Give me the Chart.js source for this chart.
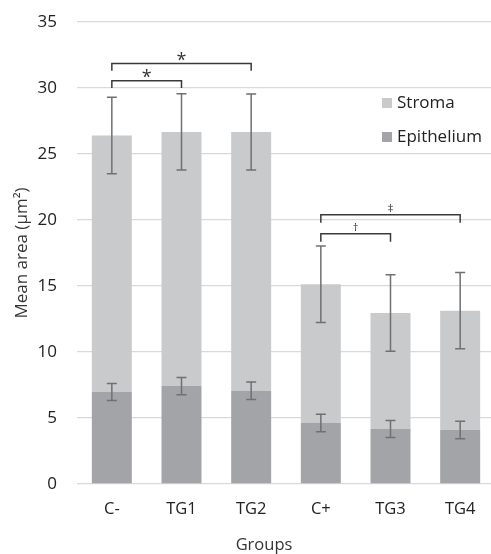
<!DOCTYPE html>
<html>
<head>
<meta charset="utf-8">
<script src="https://cdn.jsdelivr.net/npm/chart.js@4.4.0/dist/chart.umd.min.js"></script>
<style>
html,body{margin:0;padding:0;background:#fff;overflow:hidden;}
#wrap{width:500px;height:554px;position:relative;}
</style>
</head>
<body>
<div id="wrap"><canvas id="c" width="500" height="554"></canvas></div>
<script>
const categories = ['C-', 'TG1', 'TG2', 'C+', 'TG3', 'TG4'];
const epithelium = [6.97, 7.42, 7.07, 4.62, 4.17, 4.09];
const stroma = [19.43, 19.25, 19.60, 10.51, 8.78, 9.04];
const epitheliumErr = [0.65, 0.65, 0.66, 0.66, 0.65, 0.66];
const totalErr = [2.89, 2.89, 2.88, 2.90, 2.90, 2.89];
const yTicks = [0, 5, 10, 15, 20, 25, 30, 35];
const brackets = [
  { from: 0, to: 2, label: '*', top: 31.85, bottom: 31.3 },
  { from: 0, to: 1, label: '*', top: 30.55, bottom: 30.0 },
  { from: 3, to: 5, label: '\u2021', top: 20.4, bottom: 19.8 },
  { from: 3, to: 4, label: '\u2020', top: 18.96, bottom: 18.35 }
];
const seriesNames = ['Epithelium', 'Stroma'];
const FONT = '"Open Sans", sans-serif';

const overlay = {
  id: 'overlay',
  afterDatasetsDraw(chart) {
    const ctx = chart.ctx;
    const x = chart.scales.x, y = chart.scales.y;
    ctx.save();
    // error bars
    ctx.strokeStyle = '#707070';
    ctx.lineWidth = 1.5;
    const cap = 5;
    const drawErr = (cx, v, e) => {
      const t = y.getPixelForValue(v + e), b = y.getPixelForValue(v - e);
      ctx.beginPath();
      ctx.moveTo(cx, t); ctx.lineTo(cx, b);
      ctx.moveTo(cx - cap, t); ctx.lineTo(cx + cap, t);
      ctx.moveTo(cx - cap, b); ctx.lineTo(cx + cap, b);
      ctx.stroke();
    };
    categories.forEach((c, i) => {
      const cx = x.getPixelForValue(i);
      drawErr(cx, epithelium[i], epitheliumErr[i]);
      drawErr(cx, epithelium[i] + stroma[i], totalErr[i]);
    });
    // brackets
    ctx.strokeStyle = '#3a3a3a';
    ctx.lineWidth = 1.5;
    ctx.fillStyle = '#333';
    ctx.textAlign = 'center';
    ctx.textBaseline = 'alphabetic';
    brackets.forEach(br => {
      const x1 = x.getPixelForValue(br.from), x2 = x.getPixelForValue(br.to);
      const yt = y.getPixelForValue(br.top), yb = y.getPixelForValue(br.bottom);
      ctx.beginPath();
      ctx.moveTo(x1, yb); ctx.lineTo(x1, yt); ctx.lineTo(x2, yt); ctx.lineTo(x2, yb);
      ctx.stroke();
      if (br.label === '*') {
        ctx.font = '18px ' + FONT;
        ctx.fillText(br.label, (x1 + x2) / 2, yt + 2);
      } else {
        ctx.font = '11px ' + FONT;
        ctx.fillText(br.label, (x1 + x2) / 2, yt - 3);
      }
    });
    // legend
    const ca = chart.chartArea;
    const lx = 382;
    const items = [
      { name: seriesNames[1], color: chart.data.datasets[1].backgroundColor, cy: 103 },
      { name: seriesNames[0], color: chart.data.datasets[0].backgroundColor, cy: 137 }
    ];
    ctx.font = '17px ' + FONT;
    ctx.textAlign = 'left';
    ctx.textBaseline = 'middle';
    items.forEach(it => {
      ctx.fillStyle = it.color;
      ctx.fillRect(lx, it.cy - 5, 10, 10);
      ctx.fillStyle = '#222';
      ctx.fillText(it.name, lx + 15, it.cy);
    });
    // axis titles
    ctx.fillStyle = '#333';
    ctx.font = '16.5px ' + FONT;
    ctx.textAlign = 'center';
    ctx.fillText('Groups', 264, 545);
    ctx.translate(22, (ca.top + ca.bottom) / 2);
    ctx.rotate(-Math.PI / 2);
    ctx.font = '17px ' + FONT;
    ctx.fillText('Mean area (\u00b5m\u00b2)', 0, 0);
    ctx.restore();
  }
};

new Chart(document.getElementById('c'), {
  type: 'bar',
  data: {
    labels: categories,
    datasets: [
      { label: seriesNames[0], data: epithelium, backgroundColor: '#a3a4a7', barPercentage: 0.574, categoryPercentage: 1 },
      { label: seriesNames[1], data: stroma, backgroundColor: '#c9cacc', barPercentage: 0.574, categoryPercentage: 1 }
    ]
  },
  options: {
    responsive: false,
    animation: false,
    layout: { padding: { top: 22, right: 5, left: 0, bottom: 0 } },
    plugins: { legend: { display: false }, tooltip: { enabled: false } },
    scales: {
      x: {
        stacked: true,
        grid: { display: false, drawTicks: false },
        border: { display: false },
        ticks: { color: '#222', font: { family: FONT, size: 16.5 }, padding: 15 },
        afterFit(s) { s.height = 70; s.paddingLeft = 0; s.paddingRight = 0; }
      },
      y: {
        stacked: true,
        min: 0, max: 35,
        afterBuildTicks(s) { s.ticks = yTicks.map(v => ({ value: v })); },
        grid: { color: '#d9d9d9', lineWidth: 1.3, drawTicks: false },
        border: { display: false },
        ticks: { color: '#222', font: { family: FONT, size: 17 }, padding: 20 },
        afterFit(s) { s.width = 77; s.paddingTop = 0; s.paddingBottom = 0; }
      }
    }
  },
  plugins: [overlay]
});
</script>
</body>
</html>
